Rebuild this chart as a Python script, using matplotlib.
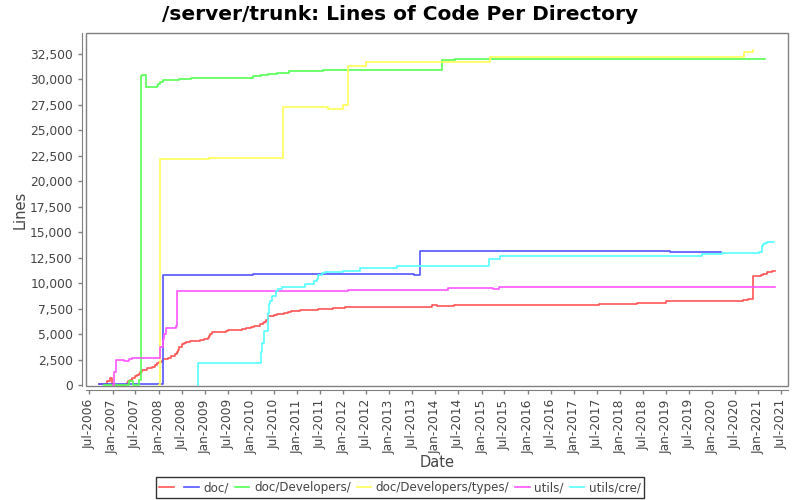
import pandas as pd
import matplotlib
matplotlib.use("Agg")
import matplotlib.pyplot as plt
import matplotlib.dates as mdates
from matplotlib.ticker import FuncFormatter, MultipleLocator
from matplotlib.patches import Rectangle

# root directory (unlabelled series)
root_dates = ["2006-09-18", "2006-11-18", "2006-12-14", "2006-12-28", "2007-04-14",
              "2007-04-25", "2007-05-07", "2007-05-21", "2007-06-08", "2007-06-29",
              "2007-07-12", "2007-07-28", "2007-08-07", "2007-08-21", "2007-09-08",
              "2007-09-29", "2007-10-12", "2007-11-08", "2007-12-04", "2007-12-17",
              "2008-01-06", "2008-01-27", "2008-02-08", "2008-03-19", "2008-04-07",
              "2008-05-11", "2008-05-24", "2008-06-01", "2008-06-11", "2008-07-04",
              "2008-07-17", "2008-08-07", "2008-09-07", "2008-10-17", "2008-11-20",
              "2008-12-29", "2009-01-24", "2009-02-01", "2009-02-14", "2009-02-27",
              "2009-04-08", "2009-06-18", "2009-07-01", "2009-10-23", "2009-11-23",
              "2010-01-04", "2010-01-24", "2010-02-24", "2010-03-10", "2010-04-05",
              "2010-04-18", "2010-05-01", "2010-05-14", "2010-06-10", "2010-07-01",
              "2010-07-25", "2010-08-15", "2010-09-23", "2010-10-19", "2010-11-15",
              "2011-01-22", "2011-03-29", "2011-06-15", "2011-10-12", "2012-01-14",
              "2012-07-04", "2013-12-01", "2014-01-12", "2014-05-31", "2015-12-14",
              "2017-07-17", "2018-05-15", "2018-12-29", "2020-09-02", "2020-10-12",
              "2020-11-20", "2021-01-20", "2021-02-09", "2021-03-13", "2021-04-17",
              "2021-05-13"]
root_lines = [100, 430, 720, 60, 180,
              264, 430, 530, 750, 920,
              980, 1140, 1370, 1470, 1530,
              1700, 1760, 1800, 2050, 2190,
              2350, 2440, 2610, 2680, 2930,
              3100, 3260, 3520, 3810, 4050,
              4170, 4300, 4340, 4400, 4470,
              4530, 4630, 4890, 5080, 5220,
              5280, 5370, 5470, 5540, 5640,
              5740, 5800, 5860, 6000, 6130,
              6250, 6420, 6780, 6840, 6910,
              6980, 7030, 7100, 7200, 7300,
              7370, 7430, 7490, 7620, 7660,
              7720, 7850, 7760, 7850, 7910,
              8010, 8110, 8250, 8370, 8440,
              10690, 10790, 10880, 11080, 11180,
              11180]

doc_dates = ["2006-09-18", "2008-02-08", "2010-01-17", "2013-07-17", "2013-09-03",
             "2019-02-03", "2020-03-08"]
doc_lines = [100, 10790, 10880, 10830, 13230, 13130, 13130]

dev_dates = ["2006-10-27", "2007-05-10", "2007-06-11", "2007-08-01", "2007-08-16",
             "2007-08-24", "2007-09-25", "2007-12-17", "2007-12-27", "2008-01-15",
             "2008-02-08", "2008-06-10", "2008-09-11", "2010-01-17", "2010-03-23",
             "2010-05-18", "2010-07-26", "2010-10-28", "2011-07-28", "2014-02-25",
             "2014-06-01", "2021-02-22"]
dev_lines = [60, 430, 60, 490, 30290,
             30420, 29250, 29380, 29570, 29740,
             29900, 30030, 30130, 30320, 30450,
             30550, 30650, 30780, 30900, 31890,
             31990, 31990]

types_dates = ["2008-01-06", "2008-01-08", "2009-02-02", "2010-09-10", "2011-09-05",
               "2012-01-01", "2012-02-10", "2012-07-01", "2015-03-10", "2020-09-08",
               "2020-11-20"]
types_lines = [0, 22220, 22310, 27300, 27100,
               27520, 31330, 31680, 32180, 32670,
               32870]

utils_dates = ["2007-01-04", "2007-01-12", "2007-01-25", "2007-03-29", "2007-05-13",
               "2007-06-03", "2008-01-09", "2008-02-08", "2008-02-16", "2008-02-27",
               "2008-04-01", "2008-05-18", "2008-05-24", "2012-02-10", "2014-04-13",
               "2015-04-05", "2015-05-20", "2021-05-13"]
utils_lines = [0, 1300, 2540, 2380, 2580,
               2680, 3750, 4560, 5050, 5600,
               5670, 5800, 9220, 9320, 9575,
               9420, 9670, 9670]

cre_dates = ["2008-11-05", "2008-11-07", "2010-03-21", "2010-03-29", "2010-04-11",
             "2010-05-13", "2010-05-21", "2010-06-01", "2010-06-14", "2010-07-20",
             "2010-08-01", "2010-09-05", "2011-03-05", "2011-05-16", "2011-06-04",
             "2011-06-17", "2011-07-20", "2011-08-13", "2012-01-01", "2012-05-11",
             "2013-03-05", "2015-02-25", "2015-05-23", "2019-10-12", "2020-03-15",
             "2021-01-09", "2021-02-01", "2021-02-09", "2021-02-22", "2021-03-08",
             "2021-05-05"]
cre_lines = [0, 2220, 3260, 4170, 5310,
             7100, 7980, 8300, 8730, 9220,
             9450, 9610, 9900, 10230, 10420,
             10815, 11010, 11110, 11270, 11500,
             11760, 12380, 12740, 12840, 12950,
             13050, 13640, 13830, 14000, 14040,
             14040]

series = [
    ("", root_dates, root_lines, "#ff5555"),
    ("doc/", doc_dates, doc_lines, "#5555ff"),
    ("doc/Developers/", dev_dates, dev_lines, "#55ff55"),
    ("doc/Developers/types/", types_dates, types_lines, "#ffff55"),
    ("utils/", utils_dates, utils_lines, "#ff55ff"),
    ("utils/cre/", cre_dates, cre_lines, "#55ffff"),
]

plt.rcParams['font.family'] = 'DejaVu Sans'
fig = plt.figure(figsize=(8, 5), dpi=100)
ax = fig.add_axes([0.1075, 0.228, 0.8775, 0.706])

handles = []
labels = []
for name, d, v, c in series:
    ln, = ax.plot(pd.to_datetime(d), v, drawstyle='steps-post', color=c, lw=1.2)
    handles.append(ln)
    labels.append(name)

ax.set_xlim(pd.Timestamp("2006-06-05"), pd.Timestamp("2021-08-23"))
ax.set_ylim(-50, 34550)

ax.xaxis.set_major_locator(mdates.MonthLocator(bymonth=[1, 7]))
ax.xaxis.set_major_formatter(mdates.DateFormatter("%b-%Y"))
ax.yaxis.set_major_locator(MultipleLocator(2500))
ax.yaxis.set_major_formatter(FuncFormatter(lambda v, p: f"{int(v):,}"))

for s in ax.spines.values():
    s.set_color('#808080')
ax.spines['top'].set_visible(False)
ax.spines['right'].set_visible(False)
ax.spines['left'].set_position(('outward', 3))
ax.spines['bottom'].set_position(('outward', 3))
# plot outline
ax.add_patch(Rectangle((0, 0), 1, 1, transform=ax.transAxes, fill=False,
                       edgecolor='#808080', lw=1.0, clip_on=False))

ax.tick_params(axis='both', colors='#808080', labelcolor='#444444',
               labelsize=8.8, length=3, width=1)
plt.setp(ax.get_xticklabels(), rotation=90)

ax.set_xlabel("Date", fontsize=10.5, color='#444444', labelpad=1)
ax.set_ylabel("Lines", fontsize=10.5, color='#444444', labelpad=2)
fig.suptitle("/server/trunk: Lines of Code Per Directory", fontsize=14.5,
             fontweight='bold', y=0.99)

leg = fig.legend(handles, labels, loc='lower center', bbox_to_anchor=(0.5, 0.0),
                 ncol=6, fontsize=8.6, frameon=True, fancybox=False,
                 handlelength=1.2, handletextpad=0.4, columnspacing=0.5,
                 borderpad=0.3, borderaxespad=0.2)
leg.get_frame().set_edgecolor('black')
leg.get_frame().set_linewidth(1.0)
for t in leg.get_texts():
    t.set_color('#444444')

fig.savefig("out.png", dpi=100)
